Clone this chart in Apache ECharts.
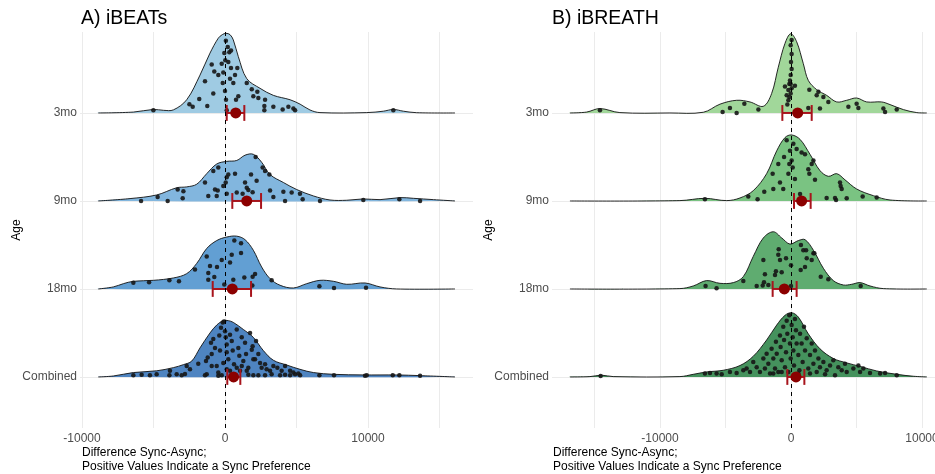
<!DOCTYPE html>
<html><head><meta charset="utf-8">
<script src="https://cdn.jsdelivr.net/npm/echarts@6/dist/echarts.min.js"></script>
<style>html,body{margin:0;padding:0;background:#fff}#c{width:935px;height:474px}</style>
</head><body><div id="c"></div>
<script>
// ---------- categories / ticks ----------
const rowLabels = ['Combined', '18mo', '9mo', '3mo'];
const xTickLabels = [-10000, 0, 10000];
const xGridValues = [-15000, -10000, -5000, 0, 5000, 10000, 15000];
const panelTitles = ['A) iBEATs', 'B) iBREATH'];
const yAxisTitle = 'Age';
const xAxisTitle = 'Difference Sync-Async;\nPositive Values Indicate a Sync Preference';

// ---------- density ridges: [difference, scaled density (row units)] ----------
const beatsCurve3mo = [[-8860,0],[-6410,0.01],[-5010,0.04],[-4300,0.03],[-3610,0.035],[-2680,0.15],[-1750,0.43],[-1050,0.68],[-470,0.85],[-190,0.89],[70,0.905],[350,0.89],[580,0.83],[930,0.64],[1520,0.39],[2450,0.28],[3380,0.2],[4550,0.15],[5250,0.1],[5940,0.034],[6640,0.004],[9910,0.004],[11070,0.02],[11770,0.04],[12470,0.02],[13400,0.003],[16080,0]];
const beatsCurve9mo = [[-8860,0],[-6640,0.027],[-4780,0.068],[-3380,0.15],[-2680,0.16],[-1980,0.19],[-1280,0.31],[-580,0.42],[120,0.45],[820,0.46],[1400,0.52],[1980,0.53],[2560,0.44],[3150,0.30],[4080,0.21],[5010,0.13],[6180,0.057],[7340,0.011],[8510,0.008],[9670,0.023],[10840,0.015],[12240,0.038],[13170,0.03],[14570,0.015],[16080,0]];
const beatsCurve18mo = [[-8860,0],[-7810,0.023],[-7110,0.06],[-6410,0.087],[-5010,0.098],[-3610,0.125],[-2680,0.174],[-1980,0.29],[-1280,0.46],[-580,0.55],[120,0.59],[820,0.6],[1400,0.56],[1980,0.44],[2560,0.25],[3150,0.117],[3850,0.042],[4780,0.011],[5710,0.06],[6640,0.098],[7580,0.087],[8510,0.053],[9790,0.068],[10840,0.023],[12000,0],[16080,0]];
const beatsCurveAll = [[-8860,0],[-7810,0.011],[-6410,0.05],[-4780,0.07],[-3610,0.106],[-2910,0.14],[-2330,0.18],[-1750,0.33],[-1050,0.50],[-580,0.59],[-120,0.64],[230,0.64],[580,0.62],[1280,0.54],[1980,0.45],[2680,0.30],[3380,0.19],[4310,0.136],[5240,0.087],[6180,0.05],[7580,0.03],[9670,0.023],[12000,0.023],[13640,0.015],[16080,0]];

const breathCurve3mo = [[-16870,0],[-15600,0.01],[-14580,0.05],[-13060,0.004],[-9240,0],[-6690,0.008],[-5420,0.1],[-4150,0.144],[-3130,0.125],[-2110,0.076],[-1480,0.22],[-970,0.52],[-460,0.79],[-25,0.90],[430,0.81],[940,0.56],[1320,0.37],[1960,0.265],[2720,0.20],[3490,0.125],[4250,0.144],[5010,0.17],[5780,0.125],[6920,0.125],[7560,0.095],[8580,0.038],[9600,0.004],[10360,0]];
const breathCurve9mo = [[-16870,0],[-8480,0.004],[-6570,0.03],[-4910,0.004],[-3890,0.034],[-2880,0.117],[-1860,0.31],[-1090,0.57],[-460,0.72],[50,0.75],[690,0.70],[1450,0.53],[2210,0.345],[2850,0.28],[3490,0.31],[4120,0.24],[5010,0.136],[6290,0.06],[7560,0.011],[10360,0]];
const breathCurve18mo = [[-16870,0],[-8480,0.004],[-7460,0.034],[-6440,0.095],[-5420,0.064],[-4400,0.072],[-3640,0.14],[-2880,0.37],[-2110,0.58],[-1350,0.65],[-710,0.58],[-80,0.51],[560,0.55],[1070,0.56],[1710,0.44],[2470,0.235],[3230,0.095],[4000,0.045],[4630,0.053],[5270,0.072],[6030,0.034],[7050,0.004],[10360,0]];
const breathCurveAll = [[-16870,0],[-15350,0.004],[-14460,0.02],[-13570,0.004],[-8480,0.004],[-7460,0.03],[-6440,0.057],[-5170,0.076],[-3890,0.13],[-2880,0.235],[-1860,0.42],[-1090,0.59],[-460,0.70],[50,0.73],[560,0.68],[1320,0.49],[2210,0.32],[3230,0.21],[4250,0.16],[5270,0.12],[6540,0.068],[8070,0.03],[9340,0.008],[10360,0]];

// ---------- individual participants: [difference, jitter height (row units)] ----------
const beatsPts3mo = [[-5010,0.03],[-2490,0.10],[-2260,0.07],[-1800,0.16],[-1400,0.36],[-1240,0.08],[-930,0.55],[-820,0.22],[-750,0.47],[-470,0.43],[-230,0.56],[-160,0.34],[-120,0.46],[-50,0.68],[0,0.25],[70,0.15],[120,0.03],[190,0.75],[230,0.58],[300,0.69],[350,0.39],[420,0.71],[420,0.51],[580,0.34],[700,0.43],[770,0.15],[860,0.51],[930,0.19],[1520,0.34],[1870,0.27],[1980,0.19],[2260,0.24],[2330,0.17],[2800,0.15],[2750,0.08],[2750,0.03],[3380,0.07],[4030,0.04],[4430,0.07],[4780,0.05],[4900,0.03],[11770,0.03],[60,0.82],[20,0.6]];
const beatsPts9mo = [[-5870,0],[-4710,0.045],[-4010,0],[-3310,0.13],[-2960,0.03],[-2910,0.11],[-1400,0.21],[-1170,0.057],[-820,0.34],[-700,0.13],[-510,0.12],[-580,0.057],[-470,0.38],[-120,0.17],[50,0.21],[120,0.083],[120,0.27],[230,0.30],[700,0.31],[820,0.095],[1230,0.083],[1400,0.21],[1520,0.15],[1630,0.125],[1820,0.30],[1930,0.10],[2140,0.50],[2210,0.23],[2630,0.38],[2800,0.34],[3100,0.30],[3150,0.12],[3380,0.045],[4080,0.106],[4200,0],[4660,0.095],[5240,0.083],[5430,0.02],[6640,0],[9670,0.01],[12190,0.02],[13640,0]];
const beatsPts18mo = [[-6410,0.07],[-5310,0.076],[-3890,0.10],[-3220,0.087],[-2100,0.22],[-1280,0.37],[-1170,0.18],[-1170,0.106],[-1050,0.26],[-750,0.136],[-560,0.25],[-230,0.33],[-50,0.05],[350,0.30],[470,0.39],[580,0.106],[650,0.55],[1120,0.52],[1120,0.41],[1350,0.13],[1930,0.14],[2100,0.17],[1910,0.04],[3260,0.10],[6600,0.03],[7620,0.011],[9860,0.015]];
const beatsPtsAll = [[-6410,0.02],[-5830,0.025],[-5250,0.02],[-4780,0.03],[-3890,0.02],[-3380,0.03],[-3030,0.02],[-2800,0.035],[-1400,0.02],[-1280,0.03],[-470,0.015],[-230,0.02],[470,0.02],[1630,0.025],[1980,0.02],[2330,0.02],[2800,0.02],[3260,0.03],[3850,0.02],[4200,0.025],[4550,0.02],[4900,0.03],[5250,0.02],[6600,0.02],[7620,0.02],[9790,0.015],[9910,0.02],[11730,0.02],[12190,0.02],[13640,0.015],[-3850,0.07],[-2680,0.125],[-2450,0.087],[-1870,0.15],[-1330,0.18],[-1210,0.22],[-930,0.26],[-980,0.39],[-820,0.43],[-700,0.33],[-580,0.125],[-400,0.47],[-350,0.30],[-280,0.56],[-160,0.62],[-70,0.63],[0,0.52],[50,0.45],[120,0.37],[120,0.28],[230,0.20],[350,0.48],[470,0.41],[540,0.30],[630,0.144],[820,0.54],[930,0.33],[1000,0.24],[1170,0.45],[1280,0.18],[1400,0.39],[1470,0.26],[1630,0.106],[1750,0.50],[1870,0.31],[1930,0.35],[1980,0.20],[2100,0.20],[2170,0.41],[2330,0.26],[2450,0.16],[2560,0.106],[2800,0.144],[2910,0.087],[3150,0.07],[3380,0.125],[3660,0.106],[3960,0.07],[4200,0.125],[4550,0.07],[4780,0.05],[5130,0.04],[-470,0.05],[120,0.087],[820,0.106],[1050,0.07],[1520,0.07],[-930,0.125],[-120,0.16],[350,0.07],[1170,0.125]];

const breathPts3mo = [[-14580,0.03],[-5220,0.01],[-4660,0.057],[-4150,0],[-3560,0.106],[-2490,0.04],[-280,0.095],[-200,0.144],[-130,0.18],[-25,0.22],[-200,0.26],[50,0.28],[-130,0.33],[-80,0.37],[-25,0.43],[50,0.50],[0,0.58],[50,0.67],[-25,0.77],[50,0.83],[-25,0.33],[-330,0.20],[-460,0.30],[300,0.31],[1400,0.265],[2090,0.24],[2470,0.18],[2850,0.125],[2210,0.05],[1960,0.20],[1320,0.057],[4380,0.07],[5010,0.106],[5140,0.057],[7050,0.05],[7180,0.01],[8070,0.04]];
const breathPts9mo = [[-6570,0.02],[-3260,0.05],[-2550,0.02],[-2040,0.106],[-1350,0.136],[-1400,0.31],[-970,0.42],[-840,0.21],[-590,0.136],[-530,0.50],[-330,0.69],[-200,0.31],[-130,0.42],[-80,0.57],[50,0.46],[130,0.38],[180,0.65],[300,0.25],[430,0.59],[690,0.08],[810,0.55],[1070,0.53],[1320,0.36],[1400,0.31],[1580,0.42],[1710,0.46],[1830,0.24],[2720,0.034],[3360,0.034],[3440,0.011],[3740,0.21],[3870,0.136],[3790,0.17],[4250,0.03],[5470,0.05],[6540,0.04]];
const breathPts18mo = [[-6520,0.034],[-5680,0.008],[-3640,0.09],[-2620,0.034],[-2160,0.038],[-2060,0.076],[-1990,0.167],[-2110,0.33],[-1730,0.045],[-1220,0.16],[-1150,0.2],[-970,0.39],[-840,0.33],[-940,0.45],[-710,0.19],[-380,0.35],[0,0.27],[0,0.034],[740,0.216],[1070,0.25],[760,0.5],[940,0.44],[1150,0.44],[1200,0.35],[1580,0.33],[1710,0.405],[1780,0.405],[2270,0.14],[2850,0.11],[5320,0.034]];
const breathPtsAll = [[-14530,0.01],[-6570,0.04],[-6180,0.045],[-5680,0.04],[-5290,0.03],[-4660,0.057],[-4150,0.045],[-3640,0.076],[-3390,0.095],[-3130,0.057],[-2880,0.17],[-2620,0.11],[-2370,0.057],[-2110,0.21],[-1990,0.095],[-1860,0.265],[-1730,0.15],[-1600,0.04],[-1480,0.32],[-1350,0.21],[-1220,0.095],[-1150,0.40],[-1090,0.265],[-970,0.057],[-840,0.47],[-790,0.34],[-710,0.19],[-590,0.57],[-530,0.42],[-460,0.11],[-380,0.28],[-330,0.64],[-280,0.49],[-200,0.057],[-130,0.70],[-80,0.38],[-25,0.21],[50,0.59],[130,0.45],[180,0.30],[230,0.13],[300,0.66],[380,0.53],[430,0.38],[560,0.25],[640,0.076],[690,0.49],[810,0.38],[890,0.17],[990,0.57],[1070,0.30],[1200,0.44],[1320,0.095],[1450,0.25],[1580,0.38],[1710,0.15],[1830,0.30],[1960,0.057],[2090,0.21],[2210,0.11],[2470,0.17],[2720,0.076],[2980,0.13],[3230,0.19],[3360,0.02],[3610,0.11],[3870,0.076],[4120,0.15],[4250,0.057],[4760,0.095],[5140,0.13],[5270,0.057],[5520,0.095],[6030,0.045],[6800,0.04],[7180,0.045],[8070,0.02],[-1350,0.04],[-710,0.057],[300,0.02],[560,0.04],[1450,0.04],[2600,0.03]];

// ---------- means and CIs (order follows rowLabels) ----------
const beatsMean = [600, 510, 1520, 750];
const beatsLo   = [160, -860, 510, 120];
const beatsHi   = [1070, 1820, 2520, 1350];
const breathMean = [380, -510, 810, 510];
const breathLo   = [-280, -1400, 230, -660];
const breathHi   = [1020, 430, 1500, 1580];

// ---------- build chart ----------
const FONT = '"Liberation Sans", Arial, Helvetica, sans-serif';
const panels = [
  { curves: [beatsCurveAll, beatsCurve18mo, beatsCurve9mo, beatsCurve3mo],
    pts: [beatsPtsAll, beatsPts18mo, beatsPts9mo, beatsPts3mo],
    fills: ['#4e84c1', '#629fd3', '#82b6de', '#9fcbe3'],
    mean: beatsMean, lo: beatsLo, hi: beatsHi,
    grid: { left: 80, top: 32, width: 393, height: 396, outerBoundsMode: 'none', containLabel: false },
    xmin: -10140, xmax: 17340, titleX: 81 },
  { curves: [breathCurveAll, breathCurve18mo, breathCurve9mo, breathCurve3mo],
    pts: [breathPtsAll, breathPts18mo, breathPts9mo, breathPts3mo],
    fills: ['#45925d', '#5fac70', '#7ac382', '#a1d79a'],
    mean: breathMean, lo: breathLo, hi: breathHi,
    grid: { left: 552, top: 32, width: 383, height: 396, outerBoundsMode: 'none', containLabel: false },
    xmin: -18240, xmax: 10990, titleX: 552 }
];

const gridLineColor = '#ebebeb';
const option = {
  animation: false,
  backgroundColor: '#fff',
  title: panels.map((p, i) => ({
    text: panelTitles[i], left: p.titleX, top: 9, padding: 0,
    textStyle: { fontFamily: FONT, fontSize: 19.5, fontWeight: 'normal', color: '#000' }
  })),
  grid: panels.map(p => p.grid),
  xAxis: panels.map((p, i) => ({
    type: 'value', gridIndex: i, min: p.xmin, max: p.xmax,
    axisLine: { show: false },
    axisTick: { show: false, customValues: xGridValues },
    axisLabel: { customValues: xTickLabels, formatter: v => String(v), hideOverlap: false,
      color: '#4d4d4d', fontFamily: FONT, fontSize: 12, margin: 5 },
    splitLine: { show: true, lineStyle: { color: gridLineColor, width: 1 } }
  })),
  yAxis: panels.map((p, i) => ({
    type: 'value', gridIndex: i, min: -0.58, max: 3.92,
    axisLine: { show: false },
    axisTick: { show: false, customValues: [0, 1, 2, 3] },
    axisLabel: { customValues: [0, 1, 2, 3], formatter: v => rowLabels[Math.round(v)],
      color: '#4d4d4d', fontFamily: FONT, fontSize: 12, margin: 3 },
    splitLine: { show: true, lineStyle: { color: gridLineColor, width: 1 } },
    name: yAxisTitle, nameLocation: 'middle', nameGap: 57, nameMoveOverlap: false,
    nameTextStyle: { color: '#000', fontFamily: FONT, fontSize: 12 }
  })),
  graphic: panels.map(p => ({
    type: 'text', left: p.titleX + 1, top: 446,
    style: { text: xAxisTitle, fill: '#000', font: '12px ' + FONT, lineHeight: 13.5 }
  })),
  series: []
};

panels.forEach((p, i) => {
  // ridges
  option.series.push({
    type: 'custom', xAxisIndex: i, yAxisIndex: i, z: 1, silent: true,
    data: rowLabels.map((_, r) => [0, r]),
    encode: { x: 0, y: 1 },
    renderItem: (params, api) => {
      const r = params.dataIndex;
      const pts = p.curves[r].map(d => api.coord([d[0], r + d[1]]));
      return { type: 'group', children: [
        { type: 'polygon', shape: { points: pts, smooth: 0.35 }, style: { fill: p.fills[r], stroke: 'none' } },
        { type: 'polyline', shape: { points: pts, smooth: 0.35 }, style: { stroke: '#111', lineWidth: 0.9, fill: 'none' } }
      ]};
    }
  });
  // participant points + zero line
  const flat = [];
  p.pts.forEach((arr, r) => arr.forEach(d => flat.push([d[0], r + d[1]])));
  option.series.push({
    type: 'scatter', xAxisIndex: i, yAxisIndex: i, z: 3, silent: true,
    data: flat, symbolSize: 4.5,
    itemStyle: { color: '#161616', opacity: 0.9 },
    markLine: { silent: true, symbol: 'none', label: { show: false },
      lineStyle: { color: '#000', type: [4, 4], width: 1 },
      data: [{ xAxis: 0 }] }
  });
  // CI bars
  option.series.push({
    type: 'custom', xAxisIndex: i, yAxisIndex: i, z: 4, silent: true,
    data: rowLabels.map((_, r) => [p.mean[r], r, p.lo[r], p.hi[r]]),
    encode: { x: [0, 2, 3], y: 1 },
    renderItem: (params, api) => {
      const r = api.value(1);
      const a = api.coord([api.value(2), r]);
      const b = api.coord([api.value(3), r]);
      const top = api.coord([api.value(2), r + 0.09])[1];
      const bot = api.coord([api.value(2), r - 0.09])[1];
      const st = { stroke: '#a8141c', lineWidth: 2 };
      return { type: 'group', children: [
        { type: 'line', shape: { x1: a[0], y1: a[1], x2: b[0], y2: b[1] }, style: st },
        { type: 'line', shape: { x1: a[0], y1: top, x2: a[0], y2: bot }, style: st },
        { type: 'line', shape: { x1: b[0], y1: top, x2: b[0], y2: bot }, style: st }
      ]};
    }
  });
  // means
  option.series.push({
    type: 'scatter', xAxisIndex: i, yAxisIndex: i, z: 5, silent: true,
    data: rowLabels.map((_, r) => [p.mean[r], r]), symbolSize: 11,
    itemStyle: { color: '#8b0000', opacity: 1 }
  });
});

const chart = echarts.init(document.getElementById('c'), null, { renderer: 'canvas' });
chart.setOption(option);
</script>
</body></html>
